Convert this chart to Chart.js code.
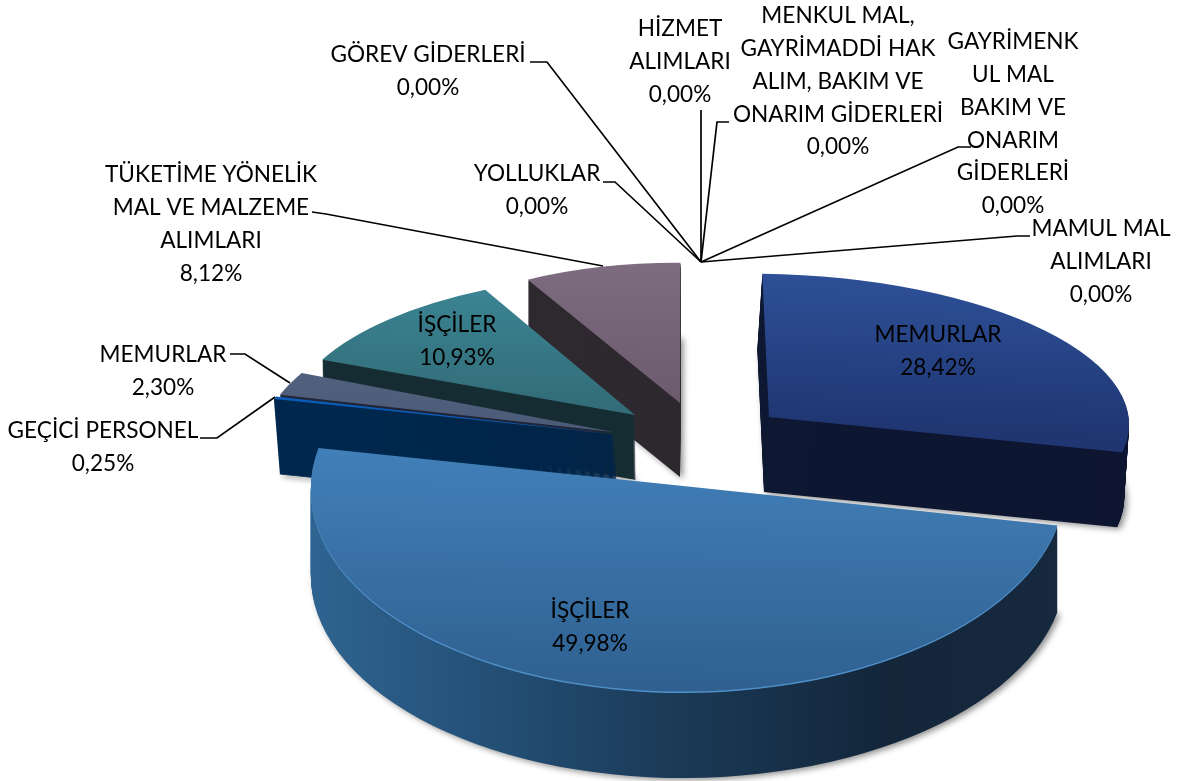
<!DOCTYPE html>
<html>
<head>
<meta charset="utf-8">
<style>html,body{margin:0;padding:0;background:#fff}canvas{display:block}</style>
<script src="https://cdn.jsdelivr.net/npm/chart.js@4/dist/chart.umd.min.js"></script>
</head>
<body>
<canvas id="c" width="1181" height="781"></canvas>
<script>
// DATA
const categories = ["MEMURLAR","İŞÇİLER","GEÇİCİ PERSONEL","MEMURLAR","İŞÇİLER","TÜKETİME YÖNELİK\nMAL VE MALZEME\nALIMLARI","YOLLUKLAR","GÖREV GİDERLERİ","HİZMET\nALIMLARI","MENKUL MAL,\nGAYRİMADDİ HAK\nALIM, BAKIM VE\nONARIM GİDERLERİ","GAYRİMENK\nUL MAL\nBAKIM VE\nONARIM\nGİDERLERİ","MAMUL MAL\nALIMLARI"];
const values = [28.42,49.98,0.25,2.30,10.93,8.12,0,0,0,0,0,0];

// STYLE: colours of each slice
const topFrom  = ["#2e5097","#417fb8","#0a5cb8","#5c6c8c","#3d8898","#7e6c80"];
const topTo    = ["#1f3672","#2f6090","#0a5cb8","#4a5a76","#316a75","#6a5a6c"];
const wallFrom = ["#0f1a34","#2f6591","#00284f","#1f2436","#162c33","#2f2930"];
const wallTo   = ["#0d1530","#16293e","#012040","#1f2436","#162c33","#2b252c"];
// STYLE: how each wedge is exploded and projected (3-D look)
const explodeX = [69,-12,-88,-87,-65,-20];
const explodeY = [-23,48,-6,-8,-25,-37];
const projA = [360,377,344,351,343,312];
const projB = [11,4,8,8,10,8];
const projC = [-9,-12,-10,-64,-36,-14];
const projD = [143,205,160,159,141,140];
const depthX = [-5,0,6,0,1,0];
const depthY = [75,85,75,40,65,74];
const drawOrder = [5,4,3,2,0,1];

// STYLE: label and leader layout
const labelCX = [938,590,103,163,457,211,537,428,680,838,1013,1101];
const labelY0 = [335,611,431,355,325,175,174,55,29,16,42,229];
const leaderHub = [701,262];
const leaders = [null,null,
  [[200,438],[217,438],[275,397]],
  [[230,354],[245,354],[290,383]],
  null,
  [[312,212],[326,214],[603,266]],
  [[603,182],[615,182],leaderHub],
  [[530,62],[547,62],leaderHub],
  [[701,110],leaderHub],
  [[729,122],[717,122],leaderHub],
  [[971,147],[958,147],leaderHub],
  [[1030,236],[1017,236],leaderHub]];

const FONT = '22.6px Lato, "Open Sans", sans-serif';
const LINE_H = 32.8;

function drawArcWith(arc, ctx, fill, edge){
  const saved = arc.options;
  arc.options = Object.assign({}, saved, {
    backgroundColor: fill, offset: 0,
    borderWidth: edge ? 1.6 : 0, borderColor: edge || "transparent", borderJoinStyle: "round", borderAlign: "center"
  });
  arc.draw(ctx);
  arc.options = saved;
}

const pseudo3d = {
  id: 'pseudo3d',
  beforeDatasetsDraw(chart){
    const ctx = chart.ctx;
    const arcs = chart.getDatasetMeta(0).data;
    drawOrder.forEach(i => {
      const arc = arcs[i];
      const R = arc.outerRadius, cx = arc.x, cy = arc.y;
      const project = () => {
        ctx.transform(projA[i]/R, projB[i]/R, projC[i]/R, projD[i]/R, cx + explodeX[i], cy + explodeY[i]);
        ctx.translate(-cx, -cy);
      };
      const wg = ctx.createLinearGradient(cx - R, 0, cx + R, 0);
      wg.addColorStop(0, wallFrom[i]);
      if (i === 1) { wg.addColorStop(.22, "#25527a"); wg.addColorStop(.5, "#1b3a57"); wg.addColorStop(.78, "#13263a"); }
      wg.addColorStop(1, wallTo[i]);
      const steps = Math.round(depthY[i]);
      for (let s = steps; s >= 1; s--) {
        ctx.save();
        if (s === steps) { ctx.shadowColor = "rgba(0,0,0,.45)"; ctx.shadowBlur = 6; ctx.shadowOffsetX = 3; ctx.shadowOffsetY = 2; }
        ctx.translate(depthX[i]*s/steps, s);
        project();
        drawArcWith(arc, ctx, wg, i === 2 ? wg : null);
        ctx.restore();
      }
      if (i === 1) {
        ctx.save();
        project();
        drawArcWith(arc, ctx, "#4f8fc8", null);
        ctx.restore();
      }
      ctx.save();
      if (i === 1) ctx.translate(0, -1.5);
      project();
      const tg = i === 1
        ? ctx.createLinearGradient(0, cy - 0.15*R, 0, cy + R)
        : ctx.createLinearGradient(0, cy - R, 0, cy + R*0.05);
      tg.addColorStop(0, topFrom[i]);
      tg.addColorStop(1, topTo[i]);
      drawArcWith(arc, ctx, tg, null);
      ctx.restore();
    });
    return false;
  },
  afterDraw(chart){
    const ctx = chart.ctx;
    ctx.save();
    ctx.strokeStyle = "#000";
    ctx.lineWidth = 1.7;
    leaders.forEach(pts => {
      if (!pts) return;
      ctx.beginPath();
      pts.forEach((p, k) => k ? ctx.lineTo(p[0], p[1]) : ctx.moveTo(p[0], p[1]));
      ctx.stroke();
    });
    ctx.font = FONT;
    ctx.fillStyle = "#000";
    ctx.textAlign = "center";
    ctx.textBaseline = "middle";
    categories.forEach((name, i) => {
      const lines = name.split("\n");
      lines.push(values[i].toFixed(2).replace(".", ",") + "%");
      lines.forEach((t, k) => ctx.fillText(t, labelCX[i], labelY0[i] + k*LINE_H));
    });
    ctx.restore();
  }
};

new Chart(document.getElementById("c"), {
  type: "pie",
  data: { labels: categories.map(s => s.replace(/\n/g, " ")),
    datasets: [{ data: values, backgroundColor: topFrom, borderWidth: 0, radius: 300 }] },
  options: {
    responsive: false,
    animation: false,
    rotation: -2.5,
    layout: { padding: { left: 219, top: 99 } },
    plugins: { legend: { display: false }, tooltip: { enabled: false } }
  },
  plugins: [pseudo3d]
});
</script>
</body>
</html>
